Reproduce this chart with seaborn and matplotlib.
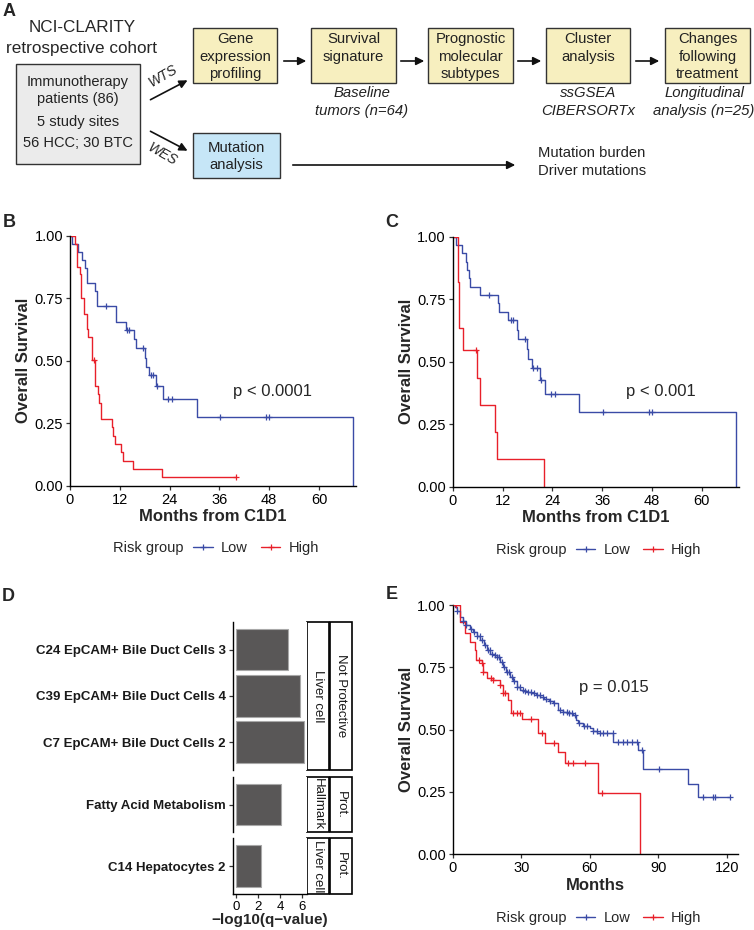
import numpy as np
import pandas as pd
import matplotlib
matplotlib.use("Agg")
import matplotlib.pyplot as plt
import seaborn as sns
from matplotlib.lines import Line2D
from matplotlib.patches import Rectangle


W, H = 754, 930
BLUE = "#3A4BA6"
RED = "#E8202A"

# --- Kaplan-Meier curves: event times (months), survival after the step, censor times

# B: baseline tumours, all patients
b_low_t = [0, 0.6, 2.0, 3.0, 3.6, 4.0, 4.2, 6.0, 6.4, 11.0, 11.2, 13.5, 15.4, 15.9, 18.1, 18.3, 19.1, 20.7, 22.3, 30.5, 68.1]
b_low_s = [1.0, 0.968, 0.936, 0.904, 0.872, 0.84, 0.812, 0.78, 0.717, 0.685, 0.653, 0.622, 0.587, 0.552, 0.509, 0.476, 0.444, 0.40, 0.345, 0.276, 0.0]
b_low_cens = [8.7, 13.8, 14.2, 17.5, 19.4, 20.0, 21.0, 23.7, 24.5, 36.1, 47.2, 47.9]
b_high_t = [0, 1.2, 1.6, 2.4, 2.65, 3.45, 4.0, 4.25, 5.2, 5.4, 6.0, 6.7, 7.0, 7.4, 10.0, 10.3, 10.8, 12.4, 12.85, 15.1, 22.1, 39.9]
b_high_s = [1.0, 0.967, 0.875, 0.845, 0.75, 0.686, 0.625, 0.593, 0.532, 0.503, 0.40, 0.367, 0.332, 0.266, 0.233, 0.20, 0.167, 0.133, 0.10, 0.067, 0.034, 0.034]
b_high_cens = [5.8, 39.9]

# C: baseline tumours, second comparison
c_low_t = [0, 0.8, 2.2, 3.1, 3.5, 3.9, 4.2, 6.6, 11.0, 11.2, 13.4, 15.4, 15.8, 17.8, 18.2, 19.0, 20.9, 22.2, 30.5, 68.2]
c_low_s = [1.0, 0.967, 0.933, 0.90, 0.867, 0.833, 0.80, 0.767, 0.733, 0.70, 0.665, 0.628, 0.59, 0.55, 0.51, 0.475, 0.425, 0.37, 0.297, 0.0]
c_low_cens = [8.8, 14.0, 14.4, 17.4, 19.4, 20.2, 21.3, 23.6, 24.7, 36.1, 47.2, 47.9]
c_high_t = [0, 1.2, 1.3, 1.4, 1.5, 2.6, 5.9, 6.6, 10.2, 10.7, 22.1]
c_high_s = [1.0, 0.909, 0.818, 0.727, 0.636, 0.545, 0.436, 0.327, 0.218, 0.109, 0.0]
c_high_cens = [5.6]

# E: validation cohort
e_low_t = [0, 1.0, 2.0, 3.2, 4.5, 6.0, 7.6, 9.0, 10.5, 12.0, 13.5, 14.9, 16.5, 18.0, 19.3, 20.5, 22.2, 23.5,
           25.1, 26.5, 28.0, 29.5, 31.0, 32.4, 34.5, 36.5, 38.2, 40.0, 42.0, 44.1, 46.3, 48.5, 50.5, 52.8,
           54.0, 55.0, 57.0, 60.1, 61.5, 63.1, 70.1, 81.3, 83.5, 103.2, 107.6, 121.5]
e_low_s = [1.0, 0.99, 0.975, 0.95, 0.935, 0.92, 0.905, 0.89, 0.875, 0.86, 0.84, 0.82, 0.805, 0.798, 0.79, 0.77,
           0.752, 0.73, 0.712, 0.695, 0.672, 0.66, 0.655, 0.65, 0.645, 0.638, 0.63, 0.622, 0.615, 0.605,
           0.578, 0.572, 0.567, 0.558, 0.54, 0.525, 0.515, 0.505, 0.495, 0.487, 0.451, 0.418, 0.34, 0.281,
           0.228, 0.228]
e_low_cens = [2.0, 4.5, 6.0, 8.2, 9.5, 10.5, 11.8, 13.0, 14.2, 15.5, 16.4, 17.3, 18.6, 19.5, 20.4, 21.6, 22.5,
              23.8, 24.6, 25.9, 27.0, 28.3, 29.4, 30.6, 31.8, 33.0, 34.4, 35.5, 36.9, 38.1, 39.7, 41.0, 42.5,
              44.2, 46.8, 48.5, 49.9, 51.0, 52.3, 53.5, 55.5, 57.4, 59.0, 61.6, 63.0, 64.5, 66.0, 67.5, 70.0,
              72.5, 74.5, 76.5, 78.5, 80.6, 82.9, 90.4, 109.8, 114.1, 114.8, 121.5]
e_high_t = [0, 3.2, 5.4, 7.6, 9.8, 10.2, 12.7, 13.4, 14.9, 17.8, 20.7, 22.2, 24.4, 25.4, 30.2, 37.5, 40.4,
            46.3, 49.2, 63.8, 82.0]
e_high_s = [1.0, 0.933, 0.886, 0.853, 0.819, 0.779, 0.766, 0.732, 0.706, 0.699, 0.679, 0.645, 0.618, 0.565,
            0.541, 0.485, 0.447, 0.411, 0.364, 0.244, 0.0]
e_high_cens = [1.5, 11.6, 12.7, 13.4, 16.6, 17.8, 20.7, 22.2, 22.9, 26.5, 28.0, 29.5, 34.5, 39.0, 44.5,
               50.6, 52.8, 57.9, 65.3]

# D: enrichment of signature genes
d_terms = ["C24 EpCAM+ Bile Duct Cells 3", "C39 EpCAM+ Bile Duct Cells 4", "C7 EpCAM+ Bile Duct Cells 2",
           "Fatty Acid Metabolism", "C14 Hepatocytes 2"]
d_logq = [4.70, 5.80, 6.19, 4.08, 2.31]
d_type = ["Liver cell", "Liver cell", "Liver cell", "Hallmark", "Liver cell"]
d_effect = ["Not Protective", "Not Protective", "Not Protective", "Prot.", "Prot."]


sns.set_theme(style="ticks")
plt.rcParams["font.family"] = ["Liberation Sans", "DejaVu Sans"]
plt.rcParams.update({
    "axes.edgecolor": "black", "axes.linewidth": 1.0,
    "xtick.color": "#333333", "ytick.color": "#333333",
    "xtick.labelcolor": "black", "ytick.labelcolor": "black",
    "xtick.major.size": 3.0, "ytick.major.size": 3.0,
    "xtick.major.width": 0.9, "ytick.major.width": 0.9,
    "xtick.major.pad": 2.0, "ytick.major.pad": 2.0,
})

fig = plt.figure(figsize=(W / 100, H / 100), dpi=100)


def box(x0, y0, x1, y1):
    # pixel box, top-left origin -> figure fraction rect
    return [x0 / W, 1 - y1 / H, (x1 - x0) / W, (y1 - y0) / H]


# overlay for the flow diagram, panel letters and facet strips
ov = fig.add_axes([0, 0, 1, 1])
ov.set_xlim(0, W)
ov.set_ylim(H, 0)
ov.axis("off")

# ---- A: study flow chart
ov.text(82, 28, "NCI-CLARITY", ha="center", va="center", fontsize=12.3)
ov.text(82, 49, "retrospective cohort", ha="center", va="center", fontsize=12.3)
ov.add_patch(Rectangle((15.7, 64), 124.3, 100, fc="#ebebeb", ec="#333333", lw=1.0))
for txt, yy in [("Immunotherapy", 82), ("patients (86)", 99), ("5 study sites", 122), ("56 HCC; 30 BTC", 143)]:
    ov.text(78, yy, txt, ha="center", va="center", fontsize=10.5, color="#222222")

steps = [(193, 277, ["Gene", "expression", "profiling"]),
         (311, 396, ["Survival", "signature"]),
         (428, 513, ["Prognostic", "molecular", "subtypes"]),
         (546, 630, ["Cluster", "analysis"]),
         (665, 750, ["Changes", "following", "treatment"])]
for x0, x1, lines in steps:
    ov.add_patch(Rectangle((x0, 28), x1 - x0, 55, fc="#f7efbf", ec="#333333", lw=1.0))
    for k, txt in enumerate(lines):
        ov.text((x0 + x1) / 2, 39 + 17.6 * k, txt, ha="center", va="center", fontsize=10.7, color="#222222")
for xa, xb in [(281, 309), (398, 427), (515, 544), (633, 662)]:
    ov.annotate("", xy=(xb, 61), xytext=(xa, 61),
                arrowprops=dict(arrowstyle="-|>", color="#111111", lw=1.2, mutation_scale=12))

for xc, l1, l2 in [(362, "Baseline", "tumors (n=64)"), (588, "ssGSEA", "CIBERSORTx"),
                   (704, "Longitudinal", "analysis (n=25)")]:
    ov.text(xc, 93, l1, ha="center", va="center", fontsize=10.7, style="italic", color="#222222")
    ov.text(xc, 111, l2, ha="center", va="center", fontsize=10.7, style="italic", color="#222222")

ov.add_patch(Rectangle((193, 133), 87, 45, fc="#c6e6f7", ec="#333333", lw=1.0))
ov.text(236.5, 148, "Mutation", ha="center", va="center", fontsize=10.7, color="#222222")
ov.text(236.5, 165, "analysis", ha="center", va="center", fontsize=10.7, color="#222222")
ov.annotate("", xy=(518, 165), xytext=(290, 165),
            arrowprops=dict(arrowstyle="-|>", color="#111111", lw=1.2, mutation_scale=12))
ov.text(538, 153, "Mutation burden", ha="left", va="center", fontsize=10.6, color="#222222")
ov.text(538, 171, "Driver mutations", ha="left", va="center", fontsize=10.6, color="#222222")

ov.annotate("", xy=(190, 79), xytext=(148, 101),
            arrowprops=dict(arrowstyle="-|>", color="#111111", lw=1.2, mutation_scale=12))
ov.annotate("", xy=(190, 152), xytext=(148, 130),
            arrowprops=dict(arrowstyle="-|>", color="#111111", lw=1.2, mutation_scale=12))
ov.text(163, 76, "WTS", ha="center", va="center", fontsize=10, style="italic", rotation=30)
ov.text(162, 154, "WES", ha="center", va="center", fontsize=10, style="italic", rotation=-30)

for letter, xx, yy in [("A", 9, 12), ("B", 9, 222), ("C", 392, 222), ("D", 8, 596), ("E", 392, 594)]:
    ov.text(xx, yy, letter, ha="center", va="center", fontsize=13, fontweight="bold")


# ---- Kaplan-Meier panels
def km_panel(rect, groups, xmax, xticks, xlabel, ptext, px, py, leg_y):
    ax = fig.add_axes(rect)
    for t, s, cens, col in groups:
        sns.lineplot(x=t, y=s, ax=ax, color=col, lw=1.0, drawstyle="steps-post",
                     estimator=None, sort=False, legend=False)
        idx = np.searchsorted(t, cens, side="right") - 1
        sns.scatterplot(x=cens, y=np.asarray(s)[idx], ax=ax, marker="+", color=col,
                        s=18, linewidth=0.9, legend=False, zorder=3)
    ax.set_xlim(0, xmax)
    ax.set_ylim(0, 1)
    ax.set_xticks(xticks)
    ax.set_yticks([0, 0.25, 0.5, 0.75, 1.0])
    ax.set_yticklabels(["0.00", "0.25", "0.50", "0.75", "1.00"])
    ax.tick_params(labelsize=10.5)
    ax.set_xlabel(xlabel, fontsize=12, fontweight="bold", va="top")
    ax.set_ylabel("Overall Survival", fontsize=12, fontweight="bold")
    ax.xaxis.set_label_coords(0.5, -0.095)
    ax.yaxis.set_label_coords(-0.135, 0.5)
    ax.text(px, py, ptext, ha="center", va="center", fontsize=12)
    sns.despine(ax=ax)
    ax.grid(False)

    x_left = rect[0] * W
    fig.text((x_left + 43) / W, 1 - leg_y / H, "Risk group", ha="left", va="center", fontsize=10.5)
    handles = [Line2D([0], [0], color=BLUE, lw=1.0, marker="+", ms=5, mew=0.9),
               Line2D([0], [0], color=RED, lw=1.0, marker="+", ms=5, mew=0.9)]
    fig.legend(handles, ["Low", "High"], ncol=2, frameon=False, loc="center left",
               bbox_to_anchor=((x_left + 123) / W, 1 - leg_y / H), bbox_transform=fig.transFigure,
               handlelength=1.35, handletextpad=0.55, columnspacing=0.9, borderpad=0,
               borderaxespad=0, fontsize=10.5)
    return ax


km_panel(box(70, 235.7, 356, 485.7),
         [(b_low_t, b_low_s, b_low_cens, BLUE), (b_high_t, b_high_s, b_high_cens, RED)],
         68.9, [0, 12, 24, 36, 48, 60], "Months from C1D1", "p < 0.0001", 48.9, 0.376, 548)
km_panel(box(452.7, 236.7, 739.3, 486.7),
         [(c_low_t, c_low_s, c_low_cens, BLUE), (c_high_t, c_high_s, c_high_cens, RED)],
         69.0, [0, 12, 24, 36, 48, 60], "Months from C1D1", "p < 0.001", 50.1, 0.38, 550)
km_panel(box(452.7, 605, 738.3, 854),
         [(e_low_t, e_low_s, e_low_cens, BLUE), (e_high_t, e_high_s, e_high_cens, RED)],
         125.1, [0, 30, 60, 90, 120], "Months", "p = 0.015", 70.6, 0.669, 918)


# ---- D: faceted bar chart
dd = pd.DataFrame({"term": d_terms, "logq": d_logq, "type": d_type, "effect": d_effect})
d_rows = [(621.7, 770), (776.7, 832.3), (838.3, 894)]
groups = list(dd.groupby(["effect", "type"], sort=False))
for i, (((eff, typ), sub), (y0, y1)) in enumerate(zip(groups, d_rows)):
    ax = fig.add_axes(box(232.7, y0, 307.3, y1))
    sns.barplot(data=sub, x="logq", y="term", orient="h", ax=ax, color="#595757", saturation=1,
                width=0.9, edgecolor="#a8a8a8", linewidth=0.8)
    n = len(sub)
    ax.set_ylim(n - 0.4, -0.6)
    ax.set_xlim(-0.31, 6.5)
    ax.set_ylabel("")
    ax.tick_params(axis="y", labelsize=9.5)
    for lab in ax.get_yticklabels():
        lab.set_fontweight("bold")
        lab.set_color("#1a1a1a")
    if i < len(d_rows) - 1:
        ax.set_xlabel("")
        ax.set_xticks([])
        sns.despine(ax=ax, bottom=True)
    else:
        ax.set_xticks([0, 2, 4, 6])
        ax.tick_params(axis="x", labelsize=9.5)
        ax.set_xlabel("\u2212log10(q\u2212value)", fontsize=11, fontweight="bold", va="top")
        ax.xaxis.set_label_coords(0.5, -0.34)
        sns.despine(ax=ax)
    for (sx0, sx1), txt in [((307.3, 329.3), typ), ((330, 351.7), eff)]:
        ov.add_patch(Rectangle((sx0, y0), sx1 - sx0, y1 - y0, fc="white", ec="black", lw=1.2))
        ov.text((sx0 + sx1) / 2, (y0 + y1) / 2, txt, ha="center", va="center", rotation=270,
                fontsize=9.5, color="#1a1a1a")

fig.savefig("out.png", dpi=100, facecolor="white")
